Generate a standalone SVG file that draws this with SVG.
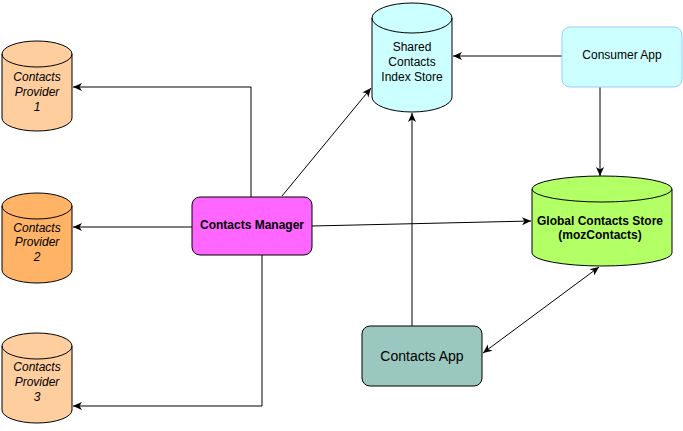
<svg xmlns="http://www.w3.org/2000/svg" width="683" height="431" viewBox="0 0 683 431">
<style>
text{font-family:"Liberation Sans",Arial,sans-serif;font-size:12px;fill:#000;text-anchor:middle}
.it{font-style:italic}
.b{font-weight:bold}
.sh{stroke:#000;stroke-width:1}
.edge{fill:none;stroke:#000;stroke-width:1}
</style>
<defs>
<marker id="ah" markerWidth="10" markerHeight="10" refX="9" refY="5" orient="auto" markerUnits="userSpaceOnUse">
<path d="M0,1 L9,5 L0,9 L2.5,5 Z" fill="#000"/>
</marker>
<marker id="as" markerWidth="10" markerHeight="10" refX="0" refY="5" orient="auto" markerUnits="userSpaceOnUse">
<path d="M9,1 L0,5 L9,9 L6.5,5 Z" fill="#000"/>
</marker>
</defs>
<g id="connectors">
<polyline class="edge" points="251,197 251,87 73,87" marker-end="url(#ah)"/>
<line class="edge" x1="192" y1="227" x2="73" y2="227" marker-end="url(#ah)"/>
<polyline class="edge" points="262,255 262,406 73,406" marker-end="url(#ah)"/>
<line class="edge" x1="282" y1="196" x2="371" y2="88" marker-end="url(#ah)"/>
<line class="edge" x1="312" y1="226" x2="531" y2="221" marker-end="url(#ah)"/>
<line class="edge" x1="562" y1="56" x2="453" y2="56" marker-end="url(#ah)"/>
<line class="edge" x1="600" y1="87" x2="600" y2="176" marker-end="url(#ah)"/>
<line class="edge" x1="412" y1="326" x2="412" y2="113" marker-end="url(#ah)"/>
<line class="edge" x1="483" y1="353" x2="599" y2="267" marker-start="url(#as)" marker-end="url(#ah)"/>
</g>
<g id="provider1">
<path class="sh" fill="#FFCE9F" d="M2,54 A35,13 0 0 1 72,54 V118 A35,13 0 0 1 2,118 Z"/>
<path class="sh" fill="none" d="M2,54 A35,13 0 0 0 72,54"/>
<text class="it" x="37" y="81">Contacts</text>
<text class="it" x="37" y="96">Provider</text>
<text class="it" x="37" y="111">1</text>
</g>
<g id="provider2">
<path class="sh" fill="#FFB366" d="M2,206 A35,13 0 0 1 72,206 V270 A35,13 0 0 1 2,270 Z"/>
<path class="sh" fill="none" d="M2,206 A35,13 0 0 0 72,206"/>
<text class="it" x="37" y="232">Contacts</text>
<text class="it" x="37" y="246">Provider</text>
<text class="it" x="37" y="261">2</text>
</g>
<g id="provider3">
<path class="sh" fill="#FFCE9F" d="M2,346 A35,13 0 0 1 72,346 V410 A35,13 0 0 1 2,410 Z"/>
<path class="sh" fill="none" d="M2,346 A35,13 0 0 0 72,346"/>
<text class="it" x="37" y="371">Contacts</text>
<text class="it" x="37" y="386">Provider</text>
<text class="it" x="37" y="401">3</text>
</g>
<g id="shared-store">
<path class="sh" fill="#CCFFFF" d="M372,18 A40,15 0 0 1 452,18 V97 A40,15 0 0 1 372,97 Z"/>
<path class="sh" fill="none" d="M372,18 A40,15 0 0 0 452,18"/>
<text x="412" y="51">Shared</text>
<text x="412" y="66">Contacts</text>
<text x="412" y="81">Index Store</text>
</g>
<g id="consumer-app">
<rect x="562" y="27" width="120" height="60" rx="8" fill="#CCFFFF" stroke="#99CCFF"/>
<text x="622" y="59">Consumer App</text>
</g>
<g id="global-store">
<path class="sh" fill="#B3FF66" d="M532,189 A70,13 0 0 1 672,189 V253 A70,13 0 0 1 532,253 Z"/>
<path class="sh" fill="none" d="M532,189 A70,13 0 0 0 672,189"/>
<text class="b" x="600" y="225">Global Contacts Store</text>
<text class="b" x="600" y="239">(mozContacts)</text>
</g>
<g id="contacts-manager">
<rect class="sh" x="192" y="197" width="120" height="58" rx="8" fill="#FF66FF"/>
<text class="b" x="252" y="229">Contacts Manager</text>
</g>
<g id="contacts-app">
<rect class="sh" x="362" y="326" width="120" height="60" rx="8" fill="#9AC7BE"/>
<text x="422" y="361" style="font-size:14px">Contacts App</text>
</g>
</svg>
